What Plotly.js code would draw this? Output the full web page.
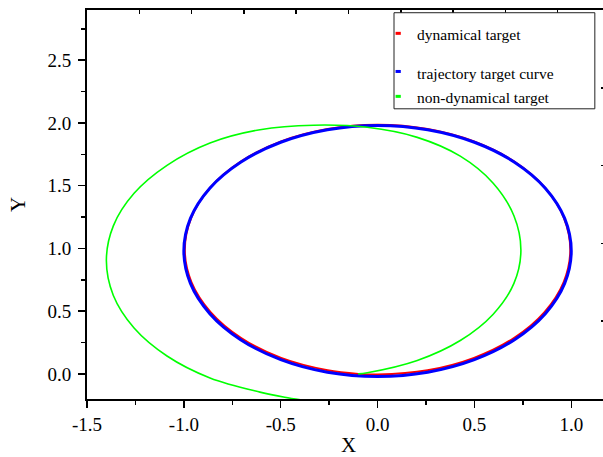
<!DOCTYPE html>
<html>
<head>
<meta charset="utf-8">
<script src="https://cdn.plot.ly/plotly-3.0.1.min.js"></script>
<style>
html, body { margin: 0; padding: 0; overflow: hidden; background: #fff; }
#chart { width: 620px; height: 457px; }
</style>
</head>
<body>
<div id="chart"></div>
<script>
// ---- data ----
var seriesNames = ["dynamical target", "trajectory target curve", "non-dynamical target"];

var redX = [-0.10, 0.0, 0.258, 0.498, 0.704, 0.862, 0.961, 0.995, 0.961, 0.862, 0.704, 0.498, 0.258, 0.0, -0.258, -0.498, -0.704, -0.862, -0.961, -0.995, -0.961, -0.862, -0.704, -0.498, -0.258, -0.10];
var redY = [0.0, -0.005, 0.029, 0.128, 0.286, 0.493, 0.732, 0.99, 1.248, 1.488, 1.694, 1.852, 1.951, 1.985, 1.951, 1.852, 1.694, 1.488, 1.248, 0.99, 0.732, 0.493, 0.286, 0.128, 0.029, 0.0];

var blueX = [1.0, 0.966, 0.866, 0.707, 0.5, 0.259, 0.0, -0.259, -0.5, -0.707, -0.866, -0.966, -1.0, -0.966, -0.866, -0.707, -0.5, -0.259, 0.0, 0.259, 0.5, 0.707, 0.866, 0.966, 1.0];
var blueY = [0.98, 1.239, 1.48, 1.687, 1.846, 1.946, 1.98, 1.946, 1.846, 1.687, 1.48, 1.239, 0.98, 0.721, 0.48, 0.273, 0.114, 0.014, -0.02, 0.014, 0.114, 0.273, 0.48, 0.721, 0.98];

var greenX = [-0.100, -0.053, 0.205, 0.427, 0.597, 0.704, 0.740, 0.704, 0.597, 0.427, 0.205, -0.053, -0.330, -0.607, -0.865, -1.087, -1.257, -1.364, -1.400, -1.364, -1.257, -1.087, -0.865, -0.607, -0.479, -0.330];
var greenY = [0.000, 0.009, 0.107, 0.266, 0.476, 0.721, 0.985, 1.260, 1.520, 1.735, 1.885, 1.965, 1.982, 1.946, 1.840, 1.662, 1.439, 1.180, 0.903, 0.625, 0.366, 0.143, -0.032, -0.145, -0.186, -0.222];

var xTickVals = [-1.5, -1.0, -0.5, 0.0, 0.5, 1.0];
var xTickText = ["-1.5", "-1.0", "-0.5", "0.0", "0.5", "1.0"];
var yTickVals = [0.0, 0.5, 1.0, 1.5, 2.0, 2.5];
var yTickText = ["0.0", "0.5", "1.0", "1.5", "2.0", "2.5"];

// ---- traces ----
var serif = "Liberation Serif, Times New Roman, serif";
var traces = [
  {x: redX, y: redY, mode: "lines", name: seriesNames[0], line: {color: "#ff0000", width: 2, shape: "spline"}},
  {x: blueX, y: blueY, mode: "lines", name: seriesNames[1], line: {color: "#0000ff", width: 3, shape: "spline"}},
  {x: greenX, y: greenY, mode: "lines", name: seriesNames[2], line: {color: "#00ff00", width: 1.6, shape: "spline"}},
  // invisible trace carrying the top and right frame axes
  {x: [0], y: [0], xaxis: "x2", yaxis: "y2", mode: "markers", marker: {opacity: 0}, hoverinfo: "skip", showlegend: false}
];

var legendColors = ["#ff0000", "#0000ff", "#00ff00"];
var legendY = [0.936, 0.838, 0.774];
var shapes = [{type: "rect", xref: "paper", yref: "paper", x0: 0.587, x1: 0.971, y0: 0.746, y1: 0.993,
               line: {color: "#222", width: 1}, fillcolor: "rgba(255,255,255,1)", layer: "above"}];
var annotations = [];
for (var i = 0; i < seriesNames.length; i++) {
  shapes.push({type: "line", xref: "paper", yref: "paper", x0: 0.590, x1: 0.600, y0: legendY[i] + 0.004, y1: legendY[i] + 0.004,
               line: {color: legendColors[i], width: 3}, layer: "above"});
  annotations.push({xref: "paper", yref: "paper", x: 0.628, y: legendY[i], xanchor: "left", yanchor: "middle",
                    text: seriesNames[i], showarrow: false, font: {family: serif, size: 15.5, color: "#000"}});
}

var layout = {
  width: 620, height: 457,
  margin: {l: 87, r: 10, t: 10, b: 58, pad: 0},
  paper_bgcolor: "#fff", plot_bgcolor: "#fff",
  showlegend: false,
  font: {family: serif, color: "#000"},
  xaxis: {
    range: [-1.5, 1.2], showgrid: false, zeroline: false,
    showline: true, linecolor: "#000", linewidth: 2,
    ticks: "outside", ticklen: 7, tickwidth: 1.5, tickcolor: "#000",
    tickvals: xTickVals, ticktext: xTickText,
    tickfont: {family: serif, size: 19, color: "#000"},
    minor: {dtick: 0.25, ticks: "outside", ticklen: 4, tickwidth: 1.5, tickcolor: "#000", showgrid: false},
    title: {text: "X", font: {family: serif, size: 21, color: "#000"}, standoff: 10}
  },
  yaxis: {
    range: [-0.2, 2.9], showgrid: false, zeroline: false,
    showline: true, linecolor: "#000", linewidth: 2,
    ticks: "outside", ticklen: 7, tickwidth: 1.5, tickcolor: "#000",
    tickvals: yTickVals, ticktext: yTickText, ticklabelstandoff: 3,
    tickfont: {family: serif, size: 19, color: "#000"},
    minor: {dtick: 0.25, ticks: "outside", ticklen: 4, tickwidth: 1.5, tickcolor: "#000", showgrid: false},
    title: {text: "Y", font: {family: serif, size: 21, color: "#000"}, standoff: 16}
  },
  xaxis2: {
    overlaying: "x", side: "top", range: [0, 10], dtick: 1,
    showgrid: false, zeroline: false, showline: true, linecolor: "#000", linewidth: 2,
    ticks: "inside", ticklen: 4, tickwidth: 1.5, tickcolor: "#000", showticklabels: false
  },
  yaxis2: {
    overlaying: "y", side: "right", range: [0, 5], dtick: 1,
    showgrid: false, zeroline: false, showline: true, linecolor: "#000", linewidth: 2,
    ticks: "inside", ticklen: 9, tickwidth: 1.5, tickcolor: "#000", showticklabels: false
  },
  shapes: shapes,
  annotations: annotations
};

Plotly.newPlot("chart", traces, layout, {staticPlot: true, displayModeBar: false});
</script>
</body>
</html>
